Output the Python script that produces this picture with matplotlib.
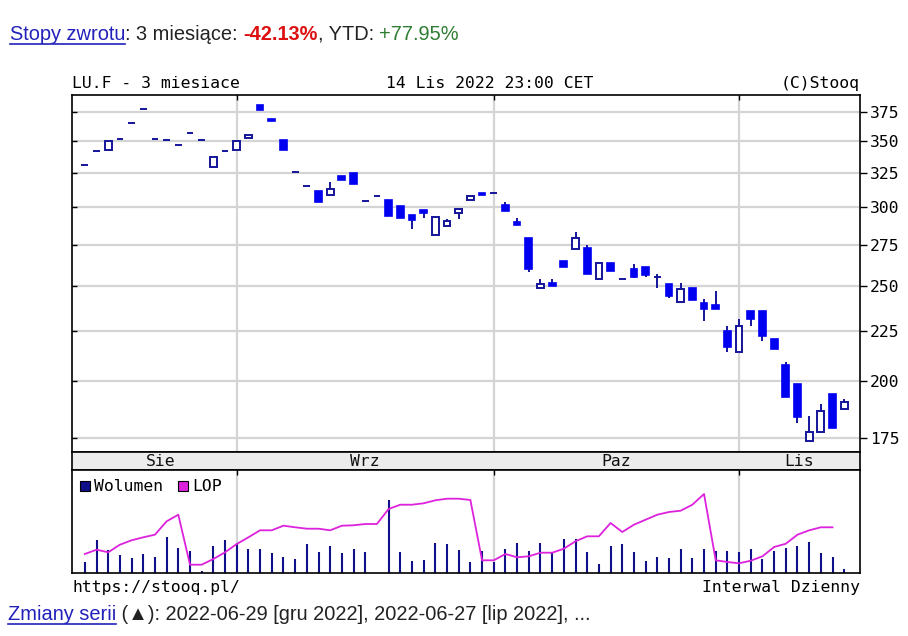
import numpy as np
import matplotlib
matplotlib.use("Agg")
import matplotlib.pyplot as plt
from matplotlib.ticker import FixedLocator, FixedFormatter, NullLocator
from matplotlib.patches import Rectangle

# ---------------- data ----------------
opens = [331, 342.3, 343, 352.3, 365.7, 377.6, 352, 350.8, 347.2, 357,
         351, 329.3, 342.3, 343, 352.5, 381, 369, 351, 326, 315,
         312, 309, 323, 325, 304.8, 308.4, 305, 301, 295, 298.5,
         281, 287, 296, 305, 310.5, 310.3, 302, 290, 279, 248.7,
         251.5, 265, 272.5, 272.7, 254, 263.3, 254.1, 259.6, 261, 254.8,
         251, 240.4, 248.6, 240, 238.8, 224.8, 214, 235.5, 235.5, 220.5,
         207.6, 198.5, 174, 177.7, 194.2, 187.3]
highs = [331, 342.3, 350.5, 352.3, 365.7, 377.6, 352, 350.8, 347.2, 357,
         351, 337.8, 342.3, 350, 355, 381, 369, 351, 326, 315,
         312, 318, 323, 325, 304.8, 308.4, 305, 301, 295, 298.5,
         293.6, 292, 299, 308, 310.5, 310.3, 304, 292.6, 279, 254,
         253.8, 265, 283.5, 275, 263.3, 263.3, 254.1, 262.7, 261, 257,
         251, 251.5, 248.6, 242, 247, 227.3, 231, 235.5, 235.5, 220.5,
         209, 198.5, 184.3, 189.4, 194.2, 191.6]
lows = [331, 342.3, 343, 352.3, 365.7, 377.6, 352, 350.8, 347.2, 357,
        351, 329.3, 342.3, 343, 352.5, 377, 367, 343, 326, 315,
        304, 309, 320, 317, 304.8, 308.4, 294, 293, 285, 293,
        281, 287, 292, 305, 309, 310.3, 297.4, 287.6, 258, 248.7,
        249.5, 261, 272.5, 256.7, 254, 258.4, 254.1, 254.6, 255.2, 248.4,
        242.6, 240.4, 241.7, 230, 236.5, 214, 214, 227.6, 219.8, 215.4,
        192.8, 181.2, 174, 177.7, 179.4, 187.3]
closes = [331, 342.3, 350.5, 352.3, 365.7, 377.6, 352, 350.8, 347.2, 357,
          351, 337.8, 342.3, 350, 355, 377, 367, 343, 326, 315,
          304, 313.5, 320, 317, 304.8, 308.4, 294, 293, 291, 296,
          293.6, 290.5, 299, 308, 309, 310.3, 297.4, 287.6, 260, 250.7,
          249.5, 261, 279, 256.7, 263.3, 258.4, 254.1, 255.2, 256.3, 254.8,
          244, 248.2, 241.7, 236.5, 236.5, 216.7, 227.3, 231, 222.2, 215.4,
          192.8, 183.8, 177.7, 186.6, 179.4, 190.4]
volume = [11, 32.7, 23.3, 18, 14.7, 19.3, 16.3, 36, 25.3, 22.3,
          1.7, 26.7, 32.7, 30, 24, 23.7, 19.7, 16.3, 13.7, 28.7,
          21, 26.7, 19.7, 24, 21, 0, 73.3, 21, 12, 13.3,
          30, 28.7, 22.7, 11, 22.3, 11, 23.7, 30, 22.3, 30,
          19.7, 34.3, 34.3, 21, 9, 26.7, 28.7, 21, 12, 16.3,
          15, 23.7, 15, 23.7, 22.3, 22.3, 21, 23.7, 13.7, 22.3,
          25.3, 26.7, 31.3, 19.7, 16.3, 4.3]
open_interest = [19, 23.3, 20.7, 28.3, 32.7, 35.7, 38.3, 51.7, 58.3, 8.3,
                 8.3, 14, 20.7, 29, 35.7, 42.7, 42.7, 47.3, 45.7, 44.3,
                 44.3, 42.7, 47.3, 47.7, 49, 49, 64, 68.3, 68.3, 69.7,
                 72.7, 74.3, 74.3, 73, 12.7, 12.7, 19, 15.7, 16.7, 20.3,
                 20.3, 24.3, 31.7, 36.7, 36.7, 50, 41, 48.3, 53.3, 58.3,
                 61, 62.3, 68.3, 79, 12.7, 11, 9.7, 12.3, 16.7, 26,
                 29.3, 38.3, 42.7, 45.7, 45.7, np.nan]
months = ["Sie", "Wrz", "Paz", "Lis"]
month_starts = [0, 13, 35, 56]
price_ticks = [175, 200, 225, 250, 275, 300, 325, 350, 375]

# ---------------- layout ----------------
W, H = 908, 636
fig = plt.figure(figsize=(W / 100, H / 100), dpi=100)
fig.patch.set_facecolor("white")


def fx(px):
    return px / W


def fy(py):
    return 1 - py / H


L, R = 72, 860
TOP, MID, BAND, VBOT = 95, 452, 470, 573
ax = fig.add_axes([fx(L), fy(MID), (R - L) / W, (MID - TOP) / H])
band = fig.add_axes([fx(L), fy(BAND), (R - L) / W, (BAND - MID) / H])
axv = fig.add_axes([fx(L), fy(VBOT), (R - L) / W, (VBOT - BAND) / H])

mono = "DejaVu Sans Mono"
MFS = 11.8
xlim = (-1.1, 66.35)
x = np.arange(len(opens))
grid_c = "#d4d4d4"
navy = "#14149a"
blue = "#0000f0"

# ---------------- price panel ----------------
ax.set_yscale("log")
ax.set_xlim(*xlim)
ax.set_ylim(169.5, 390)
for t in price_ticks:
    ax.axhline(t, color=grid_c, lw=1.6, zorder=0)
for m in month_starts[1:]:
    ax.axvline(m, color=grid_c, lw=1.6, zorder=0)

o = np.array(opens); c = np.array(closes)
hi = np.array(highs); lo = np.array(lows)
up = c >= o
ax.vlines(x, lo, hi, color=navy, lw=1.4, zorder=2)
bw = 0.58
bottoms = np.minimum(o, c)
heights = np.abs(c - o)
ax.bar(x[up], heights[up], bottom=bottoms[up], width=bw, facecolor="white",
       edgecolor=navy, linewidth=1.4, zorder=3)
ax.bar(x[~up], heights[~up], bottom=bottoms[~up], width=bw, facecolor=blue,
       edgecolor=blue, linewidth=1.2, zorder=3)

ax.yaxis.set_major_locator(FixedLocator(price_ticks))
ax.yaxis.set_major_formatter(FixedFormatter([str(t) for t in price_ticks]))
ax.yaxis.set_minor_locator(NullLocator())
ax.yaxis.tick_right()
ax.tick_params(axis="y", direction="out", length=5, width=1, pad=2,
               labelsize=MFS, labelfontfamily=mono)
ax.set_xticks([])
ax.hlines(price_ticks, 0, 5 / (R - L), transform=ax.get_yaxis_transform(),
          color="black", lw=1, zorder=4)
ax.vlines(month_starts[1:], 1 - 5 / (MID - TOP), 1, transform=ax.get_xaxis_transform(),
          color="black", lw=1, zorder=4)
for s in ax.spines.values():
    s.set_color("black"); s.set_linewidth(1.2)

# ---------------- month band ----------------
band.set_facecolor("#ececec")
band.set_xlim(*xlim)
band.set_ylim(0, 1)
band.set_xticks([]); band.set_yticks([])
edges = [xlim[0]] + month_starts[1:] + [xlim[1]]
for i, name in enumerate(months):
    band.text((edges[i] + edges[i + 1]) / 2 + (0.5 if i == 0 else 0), 0.45, name,
              ha="center", va="center", fontsize=MFS, family=mono, color="#111111")
for s in band.spines.values():
    s.set_color("black"); s.set_linewidth(1.2)

# ---------------- volume panel ----------------
axv.set_xlim(*xlim)
axv.set_ylim(0, 103)
for m in month_starts[1:]:
    axv.axvline(m, color=grid_c, lw=1.6, zorder=0)
axv.vlines(month_starts[1:], 1 - 5 / (VBOT - BAND), 1, transform=axv.get_xaxis_transform(),
           color="black", lw=1, zorder=4)
axv.vlines(x, 0, volume, color="#10108a", lw=1.5, zorder=2)
axv.plot(x, open_interest, color="#dd22dd", lw=1.3, zorder=3)
axv.set_xticks([]); axv.set_yticks([])
for s in axv.spines.values():
    s.set_color("black"); s.set_linewidth(1.2)

# legend
fig.patches.append(Rectangle((fx(80), fy(491)), 10 / W, 10 / H, transform=fig.transFigure,
                             facecolor="#10108a", edgecolor="black", lw=0.8))
fig.text(fx(94), fy(491), "Wolumen", fontsize=MFS, family=mono, va="baseline")
fig.patches.append(Rectangle((fx(178), fy(491)), 10 / W, 10 / H, transform=fig.transFigure,
                             facecolor="#dd22dd", edgecolor="black", lw=0.8))
fig.text(fx(192), fy(491), "LOP", fontsize=MFS, family=mono, va="baseline")

# ---------------- texts ----------------
fig.text(fx(L), fy(88), "LU.F - 3 miesiace", fontsize=MFS, family=mono, va="baseline")
fig.text(fx(490), fy(88), "14 Lis 2022 23:00 CET", fontsize=MFS, family=mono,
         va="baseline", ha="center")
fig.text(fx(R), fy(88), "(C)Stooq", fontsize=MFS, family=mono, va="baseline", ha="right")
fig.text(fx(L), fy(592), "https://stooq.pl/", fontsize=MFS, family=mono, va="baseline")
fig.text(fx(R), fy(592), "Interwal Dzienny", fontsize=MFS, family=mono, va="baseline", ha="right")

fig.canvas.draw()
rend = fig.canvas.get_renderer()
sans = ["Liberation Sans", "DejaVu Sans"]


def part_width(s, **kw):
    t1 = fig.text(0, 0, s + "|", **kw)
    t2 = fig.text(0, 0, "|", **kw)
    w = t1.get_window_extent(rend).width - t2.get_window_extent(rend).width
    t1.remove(); t2.remove()
    return w


def seq_text(x0, ybase, parts, fs, underline_first=False):
    xx = x0
    for k, (s, kw) in enumerate(parts):
        kw = dict(kw)
        kw.update(fontsize=fs, family=sans, va="baseline")
        fig.text(fx(xx), fy(ybase), s, **kw)
        w = part_width(s, **kw)
        if k == 0 and underline_first:
            fig.add_artist(plt.Line2D([fx(xx), fx(xx + w)], [fy(ybase + 3.5)] * 2,
                                      color=kw.get("color", "black"), lw=1.2,
                                      transform=fig.transFigure))
        xx += w


link = "#2222bb"
seq_text(10, 40, [("Stopy zwrotu", {"color": link}),
                  (": 3 miesiące: ", {"color": "#222222"}),
                  ("-42.13%", {"color": "#dd1111", "fontweight": "bold"}),
                  (", YTD: ", {"color": "#222222"}),
                  ("+77.95%", {"color": "#2e7d32"})], 14.4, underline_first=True)
seq_text(8, 620, [("Zmiany serii", {"color": link}),
                  (" (▲): 2022-06-29 [gru 2022], 2022-06-27 [lip 2022], ...", {"color": "#222222"})],
         14.4, underline_first=True)

fig.savefig("out.png", dpi=100, facecolor="white")
